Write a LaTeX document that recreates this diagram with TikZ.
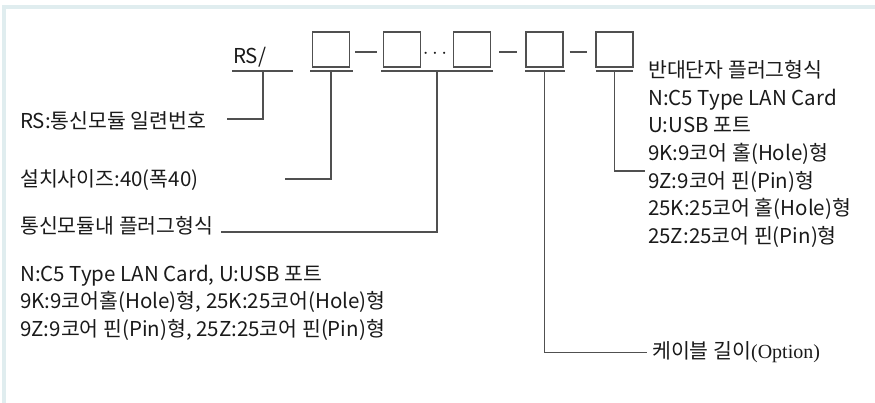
\documentclass[tikz,border=0pt]{standalone}
\usepackage{fontspec}
\setmainfont{Noto Sans CJK KR}
\newfontfamily\optfont{Liberation Serif}
\definecolor{framec}{HTML}{E0EDEF}
\definecolor{linec}{HTML}{505050}
\definecolor{txtc}{HTML}{1A1A1A}
\tikzset{
  codebox/.style={draw=linec, line width=1.2pt, minimum width=37pt, minimum height=35pt, inner sep=0pt},
  lead/.style={draw=linec, line width=1.2pt},
  txt/.style={anchor=west, inner sep=0pt, text=txtc, font=\fontsize{20.5}{27.6}\selectfont}
}
\begin{document}
\begin{tikzpicture}[x=1pt, y=-1pt] % pixel units, y down
    \useasboundingbox (0,0) rectangle (875,403);

    % Frame
    \fill[framec] (2,5) rectangle (875,9);
    \fill[framec] (2,5) rectangle (6,403);

    % Code line
    \node[txt, anchor=base west] (rs) at (233,64) {RS/};
    \node[codebox] (b1) at (331,49.5) {};
    \node[codebox] (b2) at (402,49.5) {};
    \node[txt, anchor=center] (dots) at (435,54) {$\cdots$};
    \node[codebox] (b3) at (472,49.5) {};
    \node[codebox] (b4) at (544.5,49.5) {};
    \node[codebox] (b5) at (614.5,49.5) {};

    % Dashes
    \draw[lead] ([shift={(5,2.5)}]b1.east) -- ([shift={(-6,2.5)}]b2.west);
    \draw[lead] ([shift={(8,2.5)}]b3.east) -- ([shift={(-8,2.5)}]b4.west);
    \draw[lead] ([shift={(6,2.5)}]b4.east) -- ([shift={(-8,2.5)}]b5.west);

    % Underlines
    \coordinate (u0) at (263,71);
    \coordinate (u23) at (437,71);
    \draw[lead] (232,71) -- (293,71);
    \draw[lead] (310,71) -- (353,71);
    \draw[lead] (381,71) -- (493,71);
    \draw[lead] (525,71) -- (565,71);
    \draw[lead] (596,71) -- (633,71);

    % Texts
    \node[txt] (serial) at (20,121) {RS:통신모듈 일련번호};
    \node[txt] (size) at (20,180) {설치사이즈:40(폭40)};
    \node[txt] (plug) at (20,226) {통신모듈내 플러그형식};
    \node[txt, align=left] (plugopt) at (20,302.5)
        {N:C5 Type LAN Card, U:USB 포트\\9K:9코어홀(Hole)형, 25K:25코어(Hole)형\\9Z:9코어 핀(Pin)형, 25Z:25코어 핀(Pin)형};
    \node[txt, align=left] (other) at (648,154)
        {반대단자 플러그형식\\N:C5 Type LAN Card\\U:USB 포트\\9K:9코어 홀(Hole)형\\9Z:9코어 핀(Pin)형\\25K:25코어 홀(Hole)형\\25Z:25코어 핀(Pin)형};
    \node[txt] (cable) at (652,352) {케이블 길이{\optfont\fontsize{20}{24}\selectfont(Option)}};

    % Leads
    \coordinate (e1) at (227,119);
    \coordinate (e2) at (285,179);
    \coordinate (e3) at ([shift={(7,6)}]plug.east);
    \coordinate (e4) at (647,352.5);
    \coordinate (e5) at (645,171);
    \draw[lead] (u0) |- (e1);
    \draw[lead] (b1.south |- u0) |- (e2);
    \draw[lead] (u23) |- (e3);
    \draw[lead] (b4.south |- u0) |- (e4);
    \draw[lead] (b5.south |- u0) |- (e5);
\end{tikzpicture}
\end{document}
